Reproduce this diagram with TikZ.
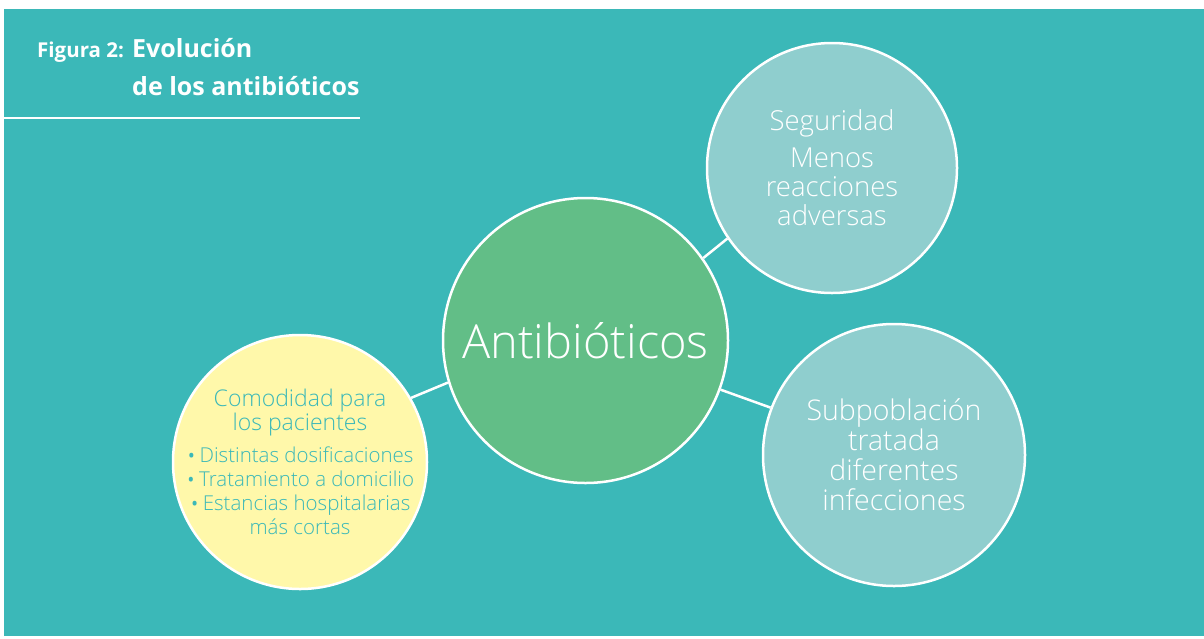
\documentclass[tikz,border=0pt]{standalone}
\usepackage{fontspec}
\setmainfont{Open Sans}
\newfontfamily\lightf{Open Sans Light}
\definecolor{bgteal}{RGB}{59,184,184}
\definecolor{cgreen}{RGB}{98,190,135}
\definecolor{clight}{RGB}{143,206,206}
\definecolor{cyellow}{RGB}{255,248,170}
\tikzset{
  bubble/.style={circle, draw=white, line width=2.5pt, inner sep=0pt, align=center},
  conn/.style={draw=white, line width=2.5pt},
  titletxt/.style={anchor=base west, inner sep=0pt, text=white, font=\bfseries}
}
\newcommand{\blt}{\smash{\fontsize{27}{24}\selectfont\raisebox{-2.5pt}{•}}\hspace{3pt}}
\begin{document}
\begin{tikzpicture}[x=1pt,y=-1pt]
\useasboundingbox (0,0) rectangle (1204,638);
\fill[white] (0,0) rectangle (1204,638);
\fill[bgteal] (4,9) rectangle (1204,636);
% title
\node[titletxt, font=\bfseries\fontsize{20.5}{24}\selectfont] (fig) at (37,57) {Figura 2:};
\node[titletxt, font=\bfseries\fontsize{25}{30}\selectfont] (evo) at (132,57) {Evolución};
\node[titletxt, font=\bfseries\fontsize{25}{30}\selectfont] (evo2) at (132,95) {de los antibióticos};
\coordinate (rl) at (4,118);
\coordinate (rr) at (360,118);
\draw[white, line width=2.5pt] (rl) -- (rr);
% circles
\node[bubble, fill=cgreen, minimum size=285pt, text=white,
      font=\lightf\fontsize{47}{50}\selectfont] (ab) at (585.5,340.5) {Antibióticos};
\node[bubble, fill=clight, minimum size=250pt, text=white,
      font=\lightf\fontsize{27.5}{29}\selectfont] (seg) at (832,168)
      {Seguridad\\[8pt]Menos\\reacciones\\adversas};
\node[bubble, fill=clight, minimum size=262pt, text=white,
      font=\lightf\fontsize{28.5}{30}\selectfont] (sub) at (894,455)
      {Subpoblación\\tratada\\diferentes\\infecciones};
\node[bubble, fill=cyellow, minimum size=254pt,
      path picture={
        \node[align=center, text=bgteal, inner sep=0pt,
              font=\lightf\fontsize{23}{24}\selectfont]
          (comtxt) at (path picture bounding box.center)
          {Comodidad para\\los pacientes\\[8pt]
           {\fontsize{20.5}{24}\selectfont \blt Distintas dosificaciones}\\
           {\fontsize{20.5}{24}\selectfont \blt Tratamiento a domicilio}\\
           {\fontsize{20.5}{24}\selectfont \blt Estancias hospitalarias}\\
           {\fontsize{20.5}{24}\selectfont más cortas}};
      }] (com) at (300,462) {};
% connectors
\draw[conn] (ab.35.5) -- (seg.214.4);
\draw[conn] (ab.-20.6) -- (sub.159.3);
\draw[conn] (ab.197.9) -- (com.30.2);
\end{tikzpicture}
\end{document}
